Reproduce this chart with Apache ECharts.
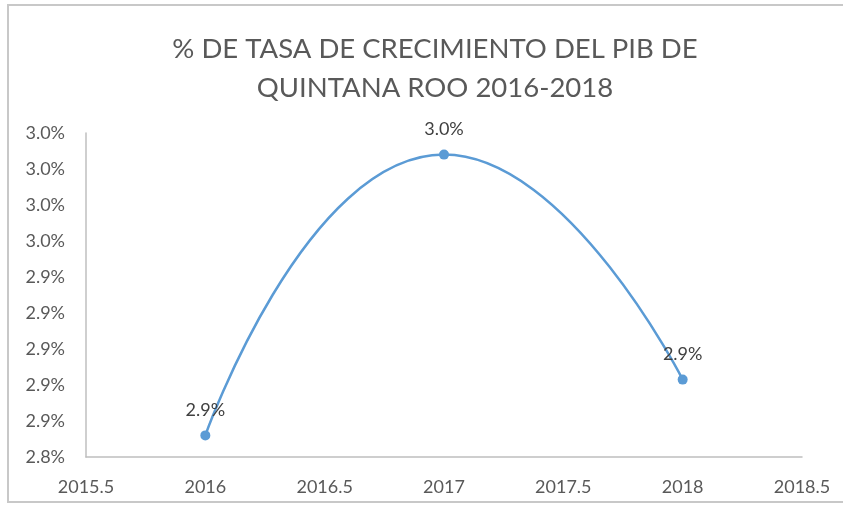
<!DOCTYPE html>
<html>
<head>
<meta charset="utf-8">
<script src="https://cdn.jsdelivr.net/npm/echarts@6/dist/echarts.min.js"></script>
<style>
  html, body { margin: 0; padding: 0; background: #fff; }
  #main { width: 843px; height: 508px; }
</style>
</head>
<body>
<div id="main"></div>
<script>
// datos del gráfico
var years = [2016, 2017, 2018];
var tasa = [2.852, 3.008, 2.883];
var titulo = '% DE TASA DE CRECIMIENTO DEL PIB DE\nQUINTANA ROO 2016-2018';

var myChart = echarts.init(document.getElementById('main'));
var font = 'Lato, "Open Sans", sans-serif';

var option = {
  backgroundColor: '#fff',
  animation: false,
  title: {
    text: titulo,
    left: 430,
    textAlign: 'center',
    top: 25,
    textStyle: {
      fontFamily: font,
      fontSize: 27.5,
      fontWeight: 'normal',
      color: '#595959',
      lineHeight: 39
    }
  },
  graphic: [
    {
      type: 'rect',
      shape: { x: 8, y: 5, width: 900, height: 497 },
      style: { fill: 'none', stroke: '#c8c8c8', lineWidth: 2 }
    }
  ],
  grid: {
    left: 86,
    right: 41,
    top: 133,
    bottom: 51
  },
  xAxis: {
    type: 'value',
    min: 2015.5,
    max: 2018.5,
    interval: 0.5,
    splitLine: { show: false },
    axisTick: { show: false },
    axisLine: { lineStyle: { color: '#bfbfbf', width: 1.5 } },
    axisLabel: {
      margin: 21,
      fontFamily: font,
      fontSize: 18,
      color: '#595959',
      formatter: function (v) { return String(v); }
    }
  },
  yAxis: {
    type: 'value',
    min: 2.84,
    max: 3.02,
    interval: 0.02,
    splitLine: { show: false },
    axisTick: { show: false },
    axisLine: { show: true, lineStyle: { color: '#bfbfbf', width: 1.5 } },
    axisLabel: {
      margin: 21,
      fontFamily: font,
      fontSize: 18,
      color: '#595959',
      formatter: function (v) { return v.toFixed(1) + '%'; }
    }
  },
  series: [
    {
      type: 'line',
      smooth: 0.55,
      data: years.map(function (y, i) { return [y, tasa[i]]; }),
      symbol: 'circle',
      symbolSize: 10,
      lineStyle: { color: '#5b9bd5', width: 2.5 },
      itemStyle: { color: '#5b9bd5' },
      label: {
        show: true,
        position: 'top',
        distance: 11,
        fontFamily: font,
        fontSize: 18,
        color: '#404040',
        formatter: function (p) { return p.value[1].toFixed(1) + '%'; }
      }
    }
  ]
};

myChart.setOption(option);
</script>
</body>
</html>
